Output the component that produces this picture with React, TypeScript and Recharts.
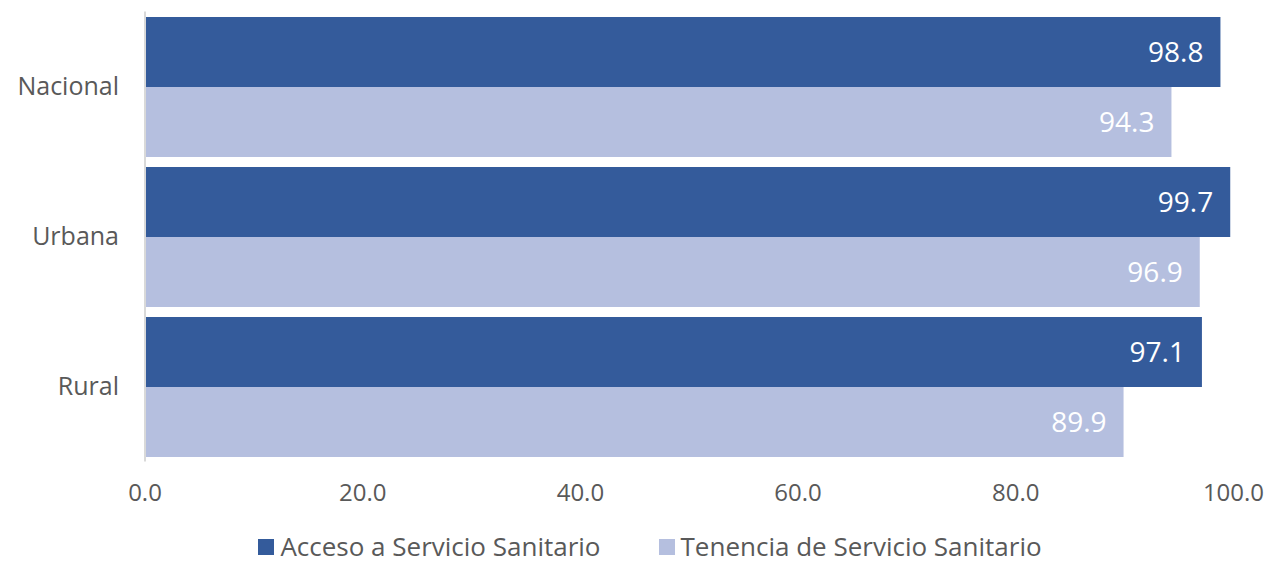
import React from 'react';
import { BarChart, Bar, XAxis, YAxis, Legend, LabelList } from 'recharts';

const categories = ['Nacional', 'Urbana', 'Rural'];
const acceso = [98.8, 99.7, 97.1];
const tenencia = [94.3, 96.9, 89.9];
const xTicks = [0, 20, 40, 60, 80, 100];
const seriesNames = ['Acceso a Servicio Sanitario', 'Tenencia de Servicio Sanitario'];

const DARK = '#345b9b';
const LIGHT = '#b5bfdf';
const GRAY = '#595959';
const FONT = '"Open Sans", "Noto Sans", sans-serif';

const data = categories.map((c, i) => ({ name: c, acceso: acceso[i], tenencia: tenencia[i] }));

const LegendContent = () => (
  <div style={{ display: 'flex', justifyContent: 'center', alignItems: 'center', height: 32, paddingLeft: 29, boxSizing: 'border-box', fontFamily: FONT, fontSize: 26, color: GRAY }}>
    {[DARK, LIGHT].map((col, i) => (
      <div key={i} style={{ display: 'flex', alignItems: 'center', marginRight: i === 0 ? 58 : 0 }}>
        <span style={{ display: 'inline-block', width: 16, height: 16, background: col, marginRight: 6, position: 'relative', top: 1 }} />
        <span style={{ lineHeight: '32px', whiteSpace: 'nowrap' }}>{seriesNames[i]}</span>
      </div>
    ))}
  </div>
);

export default function App() {
  return (
    <div style={{ position: 'absolute', left: 0, top: 0, width: 1271, height: 562, background: '#fff' }}>
      <BarChart
        width={1271}
        height={562}
        data={data}
        layout="vertical"
        margin={{ top: 11.5, right: 37.5, bottom: 0, left: 0 }}
        barCategoryGap={5.5}
        barGap={0}
      >
        <XAxis
          type="number"
          domain={[0, 100]}
          ticks={xTicks}
          tickFormatter={(v: number) => v.toFixed(1)}
          axisLine={false}
          tickLine={false}
          tickSize={0}
          tickMargin={22}
          height={68.5}
          interval={0}
          tick={{ fill: GRAY, fontSize: 24, fontFamily: FONT }}
        />
        <YAxis
          type="category"
          dataKey="name"
          width={145}
          axisLine={{ stroke: '#d9d9d9', strokeWidth: 2 }}
          tickLine={false}
          tickSize={0}
          tickMargin={26}
          tick={{ fill: GRAY, fontSize: 25, fontFamily: FONT }}
        />
        <Legend verticalAlign="bottom" wrapperStyle={{ left: 0, width: 1271 }} content={<LegendContent />} />
        <Bar dataKey="acceso" name={seriesNames[0]} fill={DARK} isAnimationActive={false}>
          <LabelList
            dataKey="acceso"
            position="insideRight"
            offset={17}
            fill="#ffffff"
            fontSize={28}
            fontFamily={FONT}
            formatter={(v: number) => v.toFixed(1)}
          />
        </Bar>
        <Bar dataKey="tenencia" name={seriesNames[1]} fill={LIGHT} isAnimationActive={false}>
          <LabelList
            dataKey="tenencia"
            position="insideRight"
            offset={17}
            fill="#ffffff"
            fontSize={28}
            fontFamily={FONT}
            formatter={(v: number) => v.toFixed(1)}
          />
        </Bar>
      </BarChart>
    </div>
  );
}
